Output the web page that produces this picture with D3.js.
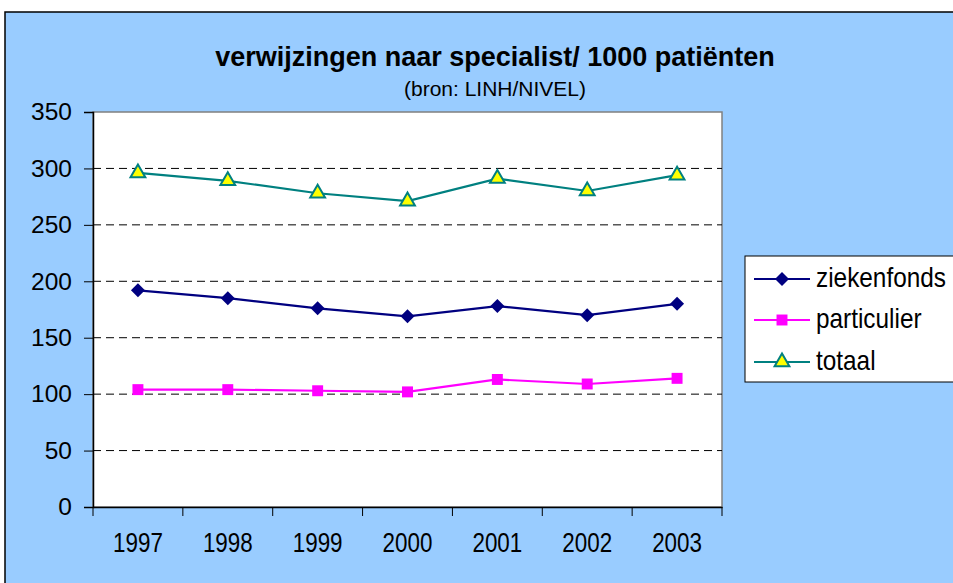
<html>
<script src="https://d3js.org/d3.v7.min.js"></script>
<meta charset="UTF-8">
<style>
    body { margin: 0; background: #fff; }
    text { font-family: Arial, "Liberation Sans", sans-serif; }
</style>
<body>
    <svg width="953" height="583" id="canvas"></svg>
</body>
<script>
    var years = ["1997", "1998", "1999", "2000", "2001", "2002", "2003"];
    var ziekenfonds = [192, 185, 176, 169, 178, 170, 180];
    var particulier = [104, 104, 103, 102, 113, 109, 114];
    var totaal = [296, 289, 278, 271, 291, 280, 294];
    var yTicks = [0, 50, 100, 150, 200, 250, 300, 350];
    var seriesNames = ["ziekenfonds", "particulier", "totaal"];

    var svg = d3.select("#canvas");

    // chart area background
    svg.append("rect")
        .attr("x", 5).attr("y", 12)
        .attr("width", 960).attr("height", 590)
        .attr("fill", "#99ccff")
        .attr("stroke", "#000").attr("stroke-width", 1.5);

    var plotL = 93, plotR = 722, plotT = 112, plotB = 507;

    var x = d3.scaleBand().domain(years).range([plotL, plotR]);
    var y = d3.scaleLinear().domain([0, 350]).range([plotB, plotT]);

    // plot area
    svg.append("rect")
        .attr("x", plotL).attr("y", plotT)
        .attr("width", plotR - plotL).attr("height", plotB - plotT)
        .attr("fill", "#fff")
        .attr("stroke", "#808080").attr("stroke-width", 1.5);

    // grid
    svg.append("g").selectAll("line")
        .data(yTicks.filter(d => d > 0 && d < 350))
        .enter().append("line")
        .attr("x1", plotL).attr("x2", plotR)
        .attr("y1", d => y(d)).attr("y2", d => y(d))
        .attr("stroke", "#000").attr("stroke-dasharray", "8,5");

    // y axis
    var yAxis = svg.append("g")
        .attr("transform", "translate(" + plotL + ",0)")
        .call(d3.axisLeft(y).tickValues(yTicks).tickSize(9).tickPadding(12));
    yAxis.selectAll("text").style("font-size", "24.5px").attr("fill", "#000");
    yAxis.selectAll(".tick line").attr("stroke", "#000");
    yAxis.select(".domain").attr("stroke", "#000").attr("stroke-width", 1.5);

    // x axis (labels look condensed in the original)
    var xAxis = svg.append("g")
        .attr("transform", "translate(0," + plotB + ")")
        .call(d3.axisBottom(x).tickSize(0).tickPadding(26));
    xAxis.selectAll("text")
        .style("font-size", "27px").attr("fill", "#000")
        .attr("transform", "scale(0.83,1)");
    xAxis.select(".domain").attr("stroke", "#000").attr("stroke-width", 1.5);
    xAxis.selectAll(".sep")
        .data(years.concat(["end"]))
        .enter().append("line")
        .attr("x1", (d, i) => plotL + i * x.step())
        .attr("x2", (d, i) => plotL + i * x.step())
        .attr("y1", 0).attr("y2", 9)
        .attr("stroke", "#000");

    var diamond = { draw: function (ctx, size) {
        var r = Math.sqrt(size) / 2;
        ctx.moveTo(0, -r); ctx.lineTo(r, 0); ctx.lineTo(0, r); ctx.lineTo(-r, 0); ctx.closePath();
    } };

    var series = [
        { name: "ziekenfonds", values: ziekenfonds, color: "#000080", fill: "#000080", shape: diamond, size: 196 },
        { name: "particulier", values: particulier, color: "#ff00ff", fill: "#ff00ff", shape: d3.symbolSquare, size: 120 },
        { name: "totaal", values: totaal, color: "#008080", fill: "#ffff00", shape: d3.symbolTriangle, size: 95 }
    ];

    var line = d3.line()
        .x((d, i) => x(years[i]) + x.bandwidth() / 2)
        .y(d => y(d));

    series.forEach(function (s) {
        svg.append("path")
            .datum(s.values)
            .attr("d", line)
            .attr("fill", "none")
            .attr("stroke", s.color)
            .attr("stroke-width", 2.2);

        svg.append("g").selectAll("path")
            .data(s.values)
            .enter().append("path")
            .attr("transform", (d, i) => "translate(" + (x(years[i]) + x.bandwidth() / 2) + "," + y(d) + ")")
            .attr("d", d3.symbol().type(s.shape).size(s.size))
            .attr("fill", s.fill)
            .attr("stroke", s.color)
            .attr("stroke-width", s.name == "totaal" ? 2 : 0);
    });

    // titles
    svg.append("text")
        .attr("x", 495).attr("y", 66)
        .attr("text-anchor", "middle")
        .style("font-size", "27px").style("font-weight", "bold")
        .text("verwijzingen naar specialist/ 1000 patiënten");
    svg.append("text")
        .attr("x", 495).attr("y", 96)
        .attr("text-anchor", "middle")
        .style("font-size", "21px")
        .text("(bron: LINH/NIVEL)");

    // legend
    var lg = svg.append("g");
    lg.append("rect")
        .attr("x", 745).attr("y", 256)
        .attr("width", 230).attr("height", 126)
        .attr("fill", "#fff").attr("stroke", "#000").attr("stroke-width", 1);
    var legY = [279, 320, 362];
    series.forEach(function (s, i) {
        lg.append("line")
            .attr("x1", 754).attr("x2", 810)
            .attr("y1", legY[i]).attr("y2", legY[i])
            .attr("stroke", s.color).attr("stroke-width", 2.2);
        lg.append("path")
            .attr("transform", "translate(782," + legY[i] + ")")
            .attr("d", d3.symbol().type(s.shape).size(s.size))
            .attr("fill", s.fill)
            .attr("stroke", s.color)
            .attr("stroke-width", s.name == "totaal" ? 2 : 0);
        lg.append("text")
            .attr("transform", "translate(816," + (legY[i] + 8) + ") scale(0.87,1)")
            .style("font-size", "28px")
            .text(seriesNames[i]);
    });
</script>
</html>
